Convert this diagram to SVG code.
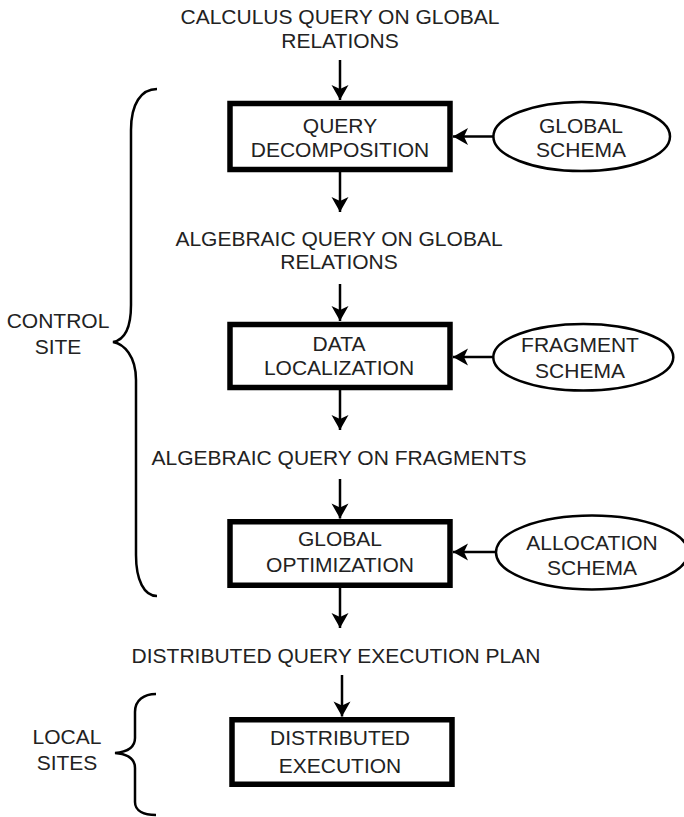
<svg xmlns="http://www.w3.org/2000/svg" width="684" height="817" viewBox="0 0 684 817">
<style>
  text { font-family: "Liberation Sans", Arial, sans-serif; font-size: 21px; fill: #222; text-anchor: middle; }
  .box { fill: #fff; stroke: #000; stroke-width: 5.5; }
  .ell { fill: #fff; stroke: #000; stroke-width: 2.5; }
  .conn { fill: none; stroke: #000; stroke-width: 2.5; }
  .brace { fill: none; stroke: #000; stroke-width: 2.5; }
</style>
<defs>
  <marker id="arrow" markerUnits="userSpaceOnUse" markerWidth="20" markerHeight="20" viewBox="-16 -10 18 20" refX="0" refY="0" orient="auto">
    <path d="M0,0 L-15,-8.5 L-11,0 L-15,8.5 Z" fill="#000"/>
  </marker>
</defs>

<g id="labels">
  <text x="340" y="23.5">CALCULUS QUERY ON GLOBAL</text>
  <text x="340" y="48">RELATIONS</text>
  <text x="339" y="246">ALGEBRAIC QUERY ON GLOBAL</text>
  <text x="339" y="269">RELATIONS</text>
  <text x="339" y="465">ALGEBRAIC QUERY ON FRAGMENTS</text>
  <text x="336" y="663">DISTRIBUTED QUERY EXECUTION PLAN</text>
</g>

<g id="control-site">
  <path class="brace" d="M157,89 C141,89 131,104 131,130 L131,305 C131,330 124,340 113,342 C124,344 136,356 136,380 L136,555 C136,580 144,596 157,596"/>
  <text x="58" y="328">CONTROL</text>
  <text x="58" y="354">SITE</text>
</g>

<g id="local-sites">
  <path class="brace" d="M156,694 C144,694 135,700 135,712 L135,738 C135,748 127,752 115,753 C127,754 135,758 135,768 L135,802 C135,811 144,815 156,815"/>
  <text x="67" y="744">LOCAL</text>
  <text x="67" y="770">SITES</text>
</g>

<g id="connectors">
  <line class="conn" x1="340" y1="60" x2="340" y2="100" marker-end="url(#arrow)"/>
  <line class="conn" x1="340" y1="172" x2="340" y2="212" marker-end="url(#arrow)"/>
  <line class="conn" x1="340" y1="284" x2="340" y2="321" marker-end="url(#arrow)"/>
  <line class="conn" x1="340" y1="390" x2="340" y2="430" marker-end="url(#arrow)"/>
  <line class="conn" x1="340" y1="479" x2="340" y2="518.5" marker-end="url(#arrow)"/>
  <line class="conn" x1="340" y1="588" x2="340" y2="628" marker-end="url(#arrow)"/>
  <line class="conn" x1="342" y1="675" x2="342" y2="716.5" marker-end="url(#arrow)"/>
  <line class="conn" x1="493.5" y1="136.5" x2="453" y2="136.5" marker-end="url(#arrow)"/>
  <line class="conn" x1="493.5" y1="357" x2="453" y2="357" marker-end="url(#arrow)"/>
  <line class="conn" x1="496" y1="552" x2="453" y2="552" marker-end="url(#arrow)"/>
</g>

<g id="query-decomposition">
  <rect class="box" x="230" y="103.5" width="220" height="66"/>
  <text x="340" y="132.5">QUERY</text>
  <text x="340" y="156.5">DECOMPOSITION</text>
</g>

<g id="global-schema">
  <ellipse class="ell" cx="581.7" cy="136.5" rx="88.3" ry="34.6"/>
  <text x="581" y="132.5">GLOBAL</text>
  <text x="581" y="156.5">SCHEMA</text>
</g>

<g id="data-localization">
  <rect class="box" x="230" y="324.5" width="220" height="63"/>
  <text x="339" y="351">DATA</text>
  <text x="339" y="375">LOCALIZATION</text>
</g>

<g id="fragment-schema">
  <ellipse class="ell" cx="583.3" cy="357.3" rx="90" ry="33.3"/>
  <text x="580" y="352">FRAGMENT</text>
  <text x="580" y="378">SCHEMA</text>
</g>

<g id="global-optimization">
  <rect class="box" x="230" y="521.75" width="220" height="63.5"/>
  <text x="340" y="545.5">GLOBAL</text>
  <text x="340" y="571.5">OPTIMIZATION</text>
</g>

<g id="allocation-schema">
  <ellipse class="ell" cx="592" cy="552.5" rx="96" ry="37"/>
  <text x="592" y="550">ALLOCATION</text>
  <text x="592" y="575">SCHEMA</text>
</g>

<g id="distributed-execution">
  <rect class="box" x="232" y="719.75" width="220" height="64.5"/>
  <text x="340" y="745">DISTRIBUTED</text>
  <text x="340" y="773">EXECUTION</text>
</g>
</svg>
